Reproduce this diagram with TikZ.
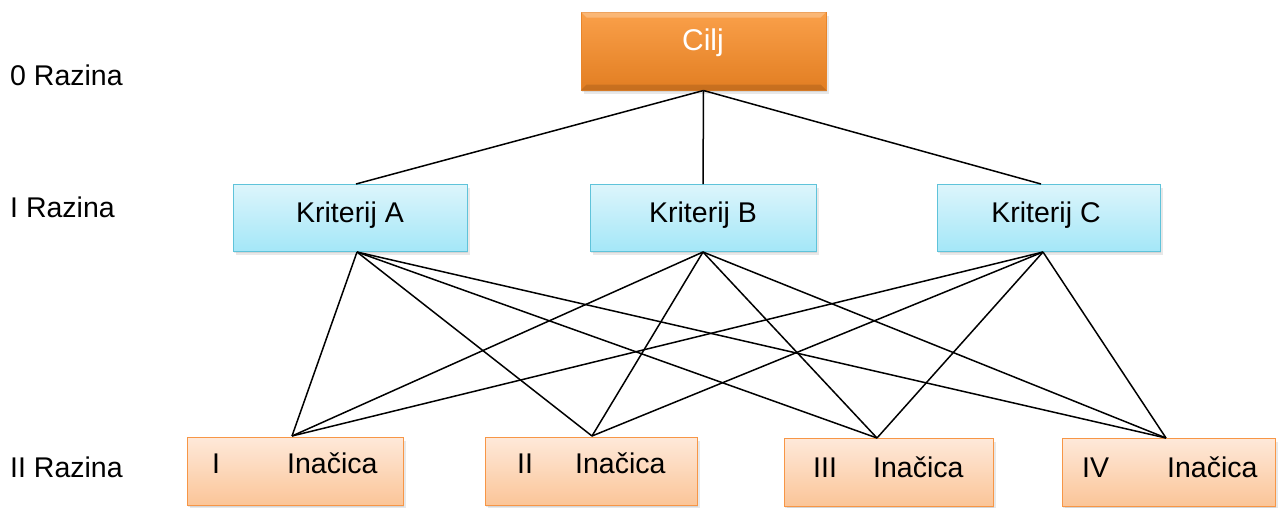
\documentclass[tikz,border=0pt]{standalone}
\usepackage{fontspec}
\setmainfont{Liberation Sans}
\usetikzlibrary{shadows}
\definecolor{goaltop}{HTML}{FAA04A}
\definecolor{goalbot}{HTML}{E27E22}
\definecolor{goalborder}{HTML}{E8852A}
\definecolor{crittop}{HTML}{DDF5FB}
\definecolor{critbot}{HTML}{A4E7F8}
\definecolor{critborder}{HTML}{5FC3DA}
\definecolor{alttop}{HTML}{FEE9DA}
\definecolor{altbot}{HTML}{FBC598}
\definecolor{altborder}{HTML}{F79646}
\newcommand{\bigtxt}{\fontsize{28.5}{34}\selectfont}
\begin{document}
\begin{tikzpicture}[x=1pt,y=-1pt,
  box/.style={draw, line width=1pt, inner sep=0pt,
    drop shadow={opacity=0.18,shadow xshift=1pt,shadow yshift=-2pt},
    drop shadow={opacity=0.18,shadow xshift=2.5pt,shadow yshift=-4pt}},
  goal/.style={box, draw=goalborder, top color=goaltop, bottom color=goalbot},
  crit/.style={box, draw=critborder, top color=crittop, bottom color=critbot, minimum height=67pt},
  alt/.style={box, draw=altborder, top color=alttop, bottom color=altbot, minimum height=68pt},
  txt/.style={anchor=base west, inner sep=0pt, font=\bigtxt},
  ctxt/.style={anchor=base, inner sep=0pt, font=\bigtxt},
  link/.style={line width=1.5pt, black}]
\useasboundingbox (0,0) rectangle (1282,507);

% level labels
\node[txt] (l0) at (10,85) {0 Razina};
\node[txt] (l1) at (10,217) {I Razina};
\node[txt] (l2) at (10,477) {II Razina};

% boxes
\node[goal, minimum width=245pt, minimum height=78pt] (cilj) at (703.5,51) {};
\fill[white, opacity=0.25] (cilj.north west) -- (cilj.north east) -- ([xshift=-6pt,yshift=-6pt]cilj.north east) -- ([xshift=6pt,yshift=-6pt]cilj.north west) -- cycle;
\fill[black, opacity=0.12] (cilj.south west) -- (cilj.south east) -- ([xshift=-6pt,yshift=6pt]cilj.south east) -- ([xshift=6pt,yshift=6pt]cilj.south west) -- cycle;
\node[crit, minimum width=234pt] (ka) at (350,217.5) {};
\node[crit, minimum width=226pt] (kb) at (703,217.5) {};
\node[crit, minimum width=223pt] (kc) at (1048.5,217.5) {};
\node[alt, minimum width=216pt] (a1) at (295,471) {};
\node[alt, minimum width=212pt] (a2) at (591,471) {};
\node[alt, minimum width=209pt] (a3) at (888.5,472) {};
\node[alt, minimum width=213pt] (a4) at (1168.5,472) {};

% texts
\node[ctxt, text=white, font=\fontsize{30}{36}\selectfont] (tcilj) at (703,50) {Cilj};
\node[ctxt] (ta) at (350,222) {Kriterij A};
\node[ctxt] (tb) at (703,222) {Kriterij B};
\node[ctxt] (tc) at (1046,222) {Kriterij C};
\node[txt] (n1) at (212,473) {I};
\node[txt] (t1) at (287,473) {Inačica};
\node[txt] (n2) at (517,473) {II};
\node[txt] (t2) at (575,473) {Inačica};
\node[txt] (n3) at (813,477) {III};
\node[txt] (t3) at (873,477) {Inačica};
\node[txt] (n4) at (1082,477) {IV};
\node[txt] (t4) at (1167,477) {Inačica};

% connection points
\coordinate (At) at (356,184);
\coordinate (Ab) at (357,252);
\coordinate (Bt) at (703,184);
\coordinate (Bb) at (703,252);
\coordinate (Ct) at (1041,184);
\coordinate (Cb) at (1043,252);
\coordinate (P1) at (292,436);
\coordinate (P2) at (592,436);
\coordinate (P3) at (877,438);
\coordinate (P4) at (1166,438);

% connectors
\draw[link] (cilj.south) -- (At);
\draw[link] (cilj.south) -- (Bt);
\draw[link] (cilj.south) -- (Ct);
\foreach \k in {Ab,Bb,Cb}{
  \foreach \p in {P1,P2,P3,P4}{
    \draw[link] (\k) -- (\p);
  }
}
\end{tikzpicture}
\end{document}
